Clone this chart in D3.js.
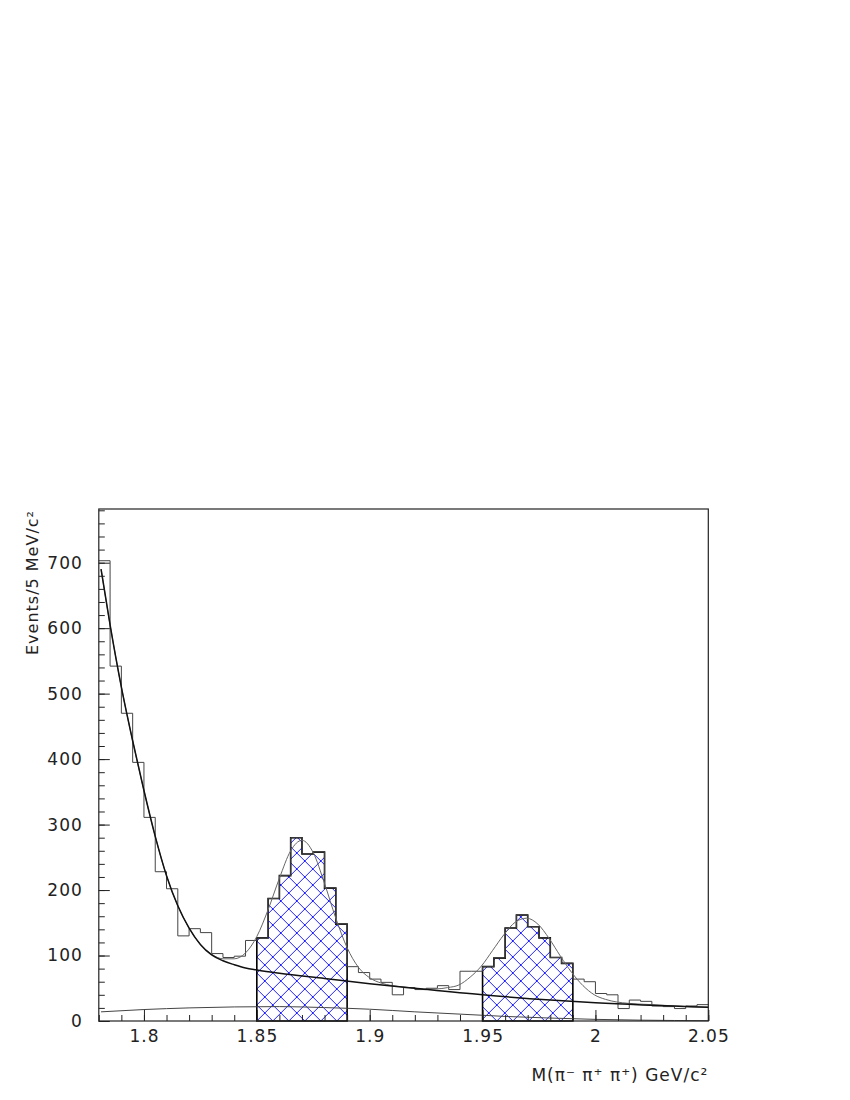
<!DOCTYPE html>
<html>
<head>
<meta charset="utf-8">
<script src="https://cdn.jsdelivr.net/npm/d3@7"></script>
<style>
  html, body { margin: 0; padding: 0; background: #fff; }
  svg { display: block; }
  text { font-family: "DejaVu Sans", sans-serif; fill: #222; }
</style>
</head>
<body>
<div id="chart"></div>
<script>
// ---- data ----
const binLow = 1.78, binWidth = 0.005;
const counts = [703,542,470,395,311,228,202,130,141,135,103,97,99,123,127,187,222,280,255,258,
                203,148,83,74,64,59,40,51,48,50,54,48,76,76,83,96,142,162,144,127,
                97,88,64,60,42,40,19,32,30,23,22,19,23,25];
const signalBins1 = [14, 21];   // bin index range (0-based, inclusive) 1.85–1.89
const signalBins2 = [34, 41];   // 1.95–1.99

const bgMass = [1.781,1.785,1.790,1.795,1.800,1.805,1.810,1.815,1.820,1.825,1.830,1.835,1.840,1.845,1.850,1.860,1.880,1.900,1.920,1.950,1.980,2.000,2.050];
const bgVals = [690,605,510,428,352,282,222,176,142,117,101,92,86,81,78,73,65,57,50,40,32,28,21];

const totalMass = [1.781,1.785,1.790,1.795,1.800,1.805,1.810,1.815,1.820,1.825,1.830,1.835,1.840,1.845,1.850,1.855,1.860,1.865,1.870,1.875,1.880,1.885,1.890,1.895,1.900,1.905,1.910,1.915,1.9245,1.9295,1.9345,1.9395,1.9445,1.9495,1.9545,1.9595,1.9645,1.9695,1.9745,1.9795,1.9845,1.9895,1.9945,1.9995,2.0045,2.0095,2.0145,2.025,2.035,2.050];
const totalVals = [690,605,510,428,352,282,222,176,142,117,102,95,95,104,129,170,218,260,276,257,210,157,112,82,66,58,54,52,49,49,51,55,67,84,108,132,151,157,148,126,99,74,54,40,33,29,27,25,23,21];

const lowMass = [1.781,1.80,1.82,1.84,1.86,1.88,1.90,1.92,1.94,1.96,1.98,2.00,2.02,2.05];
const lowVals = [14,17.5,20,21.5,22,20.5,18,14,10.5,7,4.5,2.5,1.3,0.5];

const xMajorTicks = [1.8,1.85,1.9,1.95,2,2.05];
const xTickLabels = ["1.8","1.85","1.9","1.95","2","2.05"];
const yMajorTicks = [0,100,200,300,400,500,600,700];
const yTickLabels = ["0","100","200","300","400","500","600","700"];
const xTitle = "M(\u03c0\u207b \u03c0\u207a \u03c0\u207a) GeV/c\u00b2";
const yTitle = "Events/5 MeV/c\u00b2";

(function () {
// ---- layout ----
const W = 850, H = 1100;
const pL = 98.8, pR = 708.3, pT = 509, pB = 1021;
const x = d3.scaleLinear().domain([1.78, 2.05]).range([pL, pR]);
const y = d3.scaleLinear().domain([0, 782]).range([pB, pT]);

const svg = d3.select("#chart").append("svg").attr("width", W).attr("height", H);

// hatch pattern
const T = 16;
const defs = svg.append("defs");
const pat = defs.append("pattern").attr("id", "hatch")
  .attr("patternUnits", "userSpaceOnUse").attr("width", T).attr("height", T)
  .attr("x", x(1.85)).attr("y", pB);
pat.append("path").attr("d", `M0,0L${T},${T}M${T},0L0,${T}`)
  .attr("stroke", "#2020ff").attr("stroke-width", 1).attr("fill", "none");

// histogram step data
const binEdges = counts.map((c, i) => binLow + i * binWidth);
const stepPts = counts.map((c, i) => [binEdges[i], c]);
stepPts.push([binLow + counts.length * binWidth, counts[counts.length - 1]]);

const stepLine = d3.line().x(d => x(d[0])).y(d => y(d[1])).curve(d3.curveStepAfter);

function signalPath(range) {
  const pts = [];
  for (let i = range[0]; i <= range[1]; i++) pts.push([binEdges[i], counts[i]]);
  pts.push([binEdges[range[1]] + binWidth, counts[range[1]]]);
  const area = d3.area().x(d => x(d[0])).y0(y(0)).y1(d => y(d[1])).curve(d3.curveStepAfter);
  return area(pts);
}

[signalBins1, signalBins2].forEach(r => {
  svg.append("path").attr("d", signalPath(r)).attr("fill", "url(#hatch)")
    .attr("stroke", "#000").attr("stroke-width", 1.6);
});

// main histogram
svg.append("path").attr("d", stepLine(stepPts)).attr("fill", "none")
  .attr("stroke", "#444").attr("stroke-width", 1);

// curves
const curveLine = d3.line().x(d => x(d[0])).y(d => y(d[1])).curve(d3.curveMonotoneX);
svg.append("path").attr("d", curveLine(lowMass.map((m, i) => [m, lowVals[i]])))
  .attr("fill", "none").attr("stroke", "#444").attr("stroke-width", 1);
svg.append("path").attr("d", curveLine(totalMass.map((m, i) => [m, totalVals[i]])))
  .attr("fill", "none").attr("stroke", "#666").attr("stroke-width", 1);
svg.append("path").attr("d", curveLine(bgMass.map((m, i) => [m, bgVals[i]])))
  .attr("fill", "none").attr("stroke", "#111").attr("stroke-width", 1.5);

// axes
const gx = svg.append("g").attr("transform", `translate(0,${pB})`);
gx.call(d3.axisBottom(x).tickValues(x.ticks(27)).tickSize(-6).tickFormat(""));
gx.select(".domain").remove();
const gx2 = svg.append("g").attr("transform", `translate(0,${pB})`);
gx2.call(d3.axisBottom(x).tickValues(xMajorTicks).tickSize(-11).tickPadding(9)
  .tickFormat((d, i) => xTickLabels[i]));
gx2.select(".domain").remove();

const gy = svg.append("g").attr("transform", `translate(${pL},0)`);
gy.call(d3.axisLeft(y).tickValues(d3.range(0, 782, 20)).tickSize(-6).tickFormat(""));
gy.select(".domain").remove();
const gy2 = svg.append("g").attr("transform", `translate(${pL},0)`);
gy2.call(d3.axisLeft(y).tickValues(yMajorTicks).tickSize(-11).tickPadding(16)
  .tickFormat((d, i) => yTickLabels[i]));
gy2.select(".domain").remove();

svg.selectAll(".tick line").attr("stroke", "#222").attr("stroke-width", 1);
svg.selectAll(".tick text").attr("font-family", "DejaVu Sans").attr("font-size", 17)
  .attr("letter-spacing", 1).attr("fill", "#222");

// frame
svg.append("rect").attr("x", pL).attr("y", pT).attr("width", pR - pL).attr("height", pB - pT)
  .attr("fill", "none").attr("stroke", "#222").attr("stroke-width", 1.2);

// titles
svg.append("text").attr("x", pR).attr("y", 1081).attr("text-anchor", "end")
  .attr("font-size", 17).attr("letter-spacing", 1).text(xTitle);
svg.append("text").attr("transform", `translate(38,510) rotate(-90)`).attr("text-anchor", "end")
  .attr("font-size", 16).attr("letter-spacing", 1).text(yTitle);
})();
</script>
</body>
</html>
